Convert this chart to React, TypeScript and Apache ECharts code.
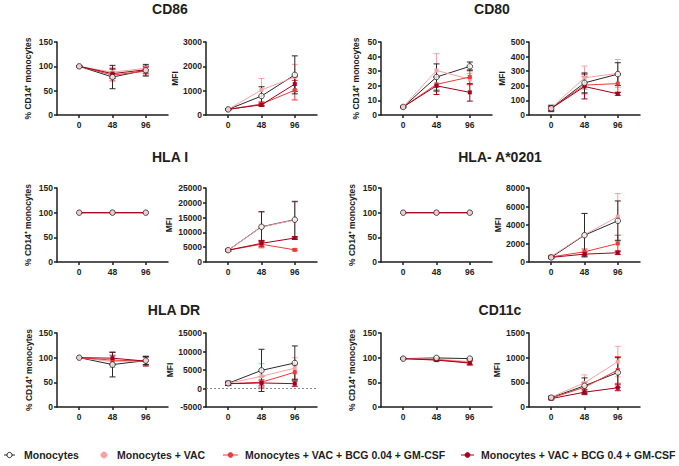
import React, { useEffect, useRef } from "react";
import * as echarts from "echarts";

// ---------- data ----------
const hours = [0, 48, 96];
const groupNames = [
  "Monocytes",
  "Monocytes + VAC",
  "Monocytes + VAC + BCG 0.04 + GM-CSF",
  "Monocytes + VAC + BCG 0.4 + GM-CSF",
];
const markerNames = ["CD86", "CD80", "HLA I", "HLA- A*0201", "HLA DR", "CD11c"];

// rows: Monocytes, +VAC, +VAC+BCG 0.04, +VAC+BCG 0.4 ; columns: 0, 48, 96 h
const cd86PctMean = [[100, 78, 92], [100, 88, 96], [100, 82, 90], [100, 85, 93]];
const cd86PctSd = [[1, 24, 12], [1, 10, 6], [1, 12, 8], [1, 10, 7]];
const cd86MfiMean = [[230, 780, 1650], [230, 1030, 1560], [230, 450, 1020], [230, 420, 1270]];
const cd86MfiSd = [[20, 380, 780], [20, 470, 520], [20, 80, 400], [20, 60, 300]];

const cd80PctMean = [[5.5, 26, 33.3], [5.5, 30.5, 24.5], [5.5, 21, 26], [5.5, 20, 15.5]];
const cd80PctSd = [[0.5, 9, 3], [0.5, 11.5, 4], [0.5, 5, 5], [0.5, 6, 6]];
const cd80MfiMean = [[45, 220, 280], [48, 255, 285], [45, 205, 215], [45, 195, 145]];
const cd80MfiSd = [[22, 68, 78], [15, 80, 95], [15, 60, 60], [15, 85, 10]];

const hlaIPctMean = [[100, 100, 100], [100, 100, 100], [100, 100, 100], [100, 100, 100]];
const hlaIPctSd = [[0, 0, 0], [0, 0, 0], [0, 0, 0], [0, 0, 0]];
const hlaIMfiMean = [[4000, 11900, 14300], [4000, 11800, 14200], [4000, 6000, 4100], [4000, 6300, 8100]];
const hlaIMfiSd = [[300, 5100, 6200], [300, 5000, 6000], [300, 1200, 300], [300, 1000, 500]];

const hlaA2PctMean = [[100, 100, 100], [100, 100, 100], [100, 100, 100], [100, 100, 100]];
const hlaA2PctSd = [[0, 0, 0], [0, 0, 0], [0, 0, 0], [0, 0, 0]];
const hlaA2MfiMean = [[500, 2900, 4450], [600, 2950, 4900], [550, 1100, 2000], [500, 850, 1000]];
const hlaA2MfiSd = [[150, 2350, 2150], [150, 2300, 2500], [100, 300, 900], [100, 200, 200]];

const hlaDrPctMean = [[100, 86, 94], [100, 92, 94], [100, 95, 93], [100, 99, 93]];
const hlaDrPctSd = [[0, 25, 8], [0, 12, 8], [0, 10, 8], [0, 12, 10]];
const hlaDrMfiMean = [[1400, 4900, 6900], [1400, 3300, 5500], [1300, 1700, 4400], [1300, 1500, 1300]];
const hlaDrMfiSd = [[600, 5700, 4600], [500, 3400, 2800], [400, 1500, 2000], [400, 800, 700]];

const cd11cPctMean = [[98, 99.5, 98], [98, 97, 92], [98, 96, 90], [98, 95, 89]];
const cd11cPctSd = [[1, 1.5, 1], [1, 2, 4], [1, 2, 4], [1, 2, 4]];
const cd11cMfiMean = [[190, 430, 700], [200, 490, 920], [180, 400, 750], [170, 300, 390]];
const cd11cMfiSd = [[30, 160, 300], [30, 160, 310], [25, 100, 270], [25, 50, 60]];

// axis scales (ticks) per marker
const pctAxisMax = [150, 50, 150, 150, 150, 150];
const pctAxisStep = [50, 10, 50, 50, 50, 50];
const mfiAxisMin = [0, 0, 0, 0, -5000, 0];
const mfiAxisMax = [3000, 500, 25000, 8000, 15000, 1500];
const mfiAxisStep = [1000, 100, 5000, 2000, 5000, 500];

const pctMeans = [cd86PctMean, cd80PctMean, hlaIPctMean, hlaA2PctMean, hlaDrPctMean, cd11cPctMean];
const pctSds = [cd86PctSd, cd80PctSd, hlaIPctSd, hlaA2PctSd, hlaDrPctSd, cd11cPctSd];
const mfiMeans = [cd86MfiMean, cd80MfiMean, hlaIMfiMean, hlaA2MfiMean, hlaDrMfiMean, cd11cMfiMean];
const mfiSds = [cd86MfiSd, cd80MfiSd, hlaIMfiSd, hlaA2MfiSd, hlaDrMfiSd, cd11cMfiSd];

// ---------- layout & style ----------
const FONT = 'Arial, "Liberation Sans", Helvetica, sans-serif';
const INK = "#1e1e1e";
const groupColors = ["#2a2a2a", "#f6a2a5", "#ee3a3a", "#a2001c"];
const rowTops = [42, 188, 333];
const rowHeights = [73, 74, 74];
const pctLefts = [57, 381];
const mfiLefts = [206, 529];
const gridWidth = 111;
const titleX = [170, 500];
const titleY = [9, 157, 310];
const pctNameGap = [25, 21, 25, 25, 24, 25];
const mfiNameGap = [24, 23, 33, 25, 32, 28];

function buildOption() {
  const grids: any[] = [];
  const xAxes: any[] = [];
  const yAxes: any[] = [];
  const series: any[] = [];
  const graphics: any[] = [];

  const xAxisFor = (idx: number) => ({
    type: "value",
    gridIndex: idx,
    min: -32,
    max: 128,
    splitLine: { show: false },
    axisLine: { show: true, onZero: false, lineStyle: { color: INK, width: 1.5 } },
    axisTick: { show: true, customValues: hours, length: 3, lineStyle: { color: INK, width: 1.5 } },
    axisLabel: {
      customValues: hours,
      fontSize: 8.5,
      fontWeight: "bold",
      color: INK,
      margin: 5,
      fontFamily: FONT,
    },
  });

  const yAxisFor = (idx: number, min: number, max: number, step: number, name: string, gap: number) => ({
    type: "value",
    gridIndex: idx,
    min,
    max,
    interval: step,
    splitLine: { show: false },
    axisLine: { show: true, onZero: false, lineStyle: { color: INK, width: 1.5 } },
    axisTick: { show: true, length: 3, lineStyle: { color: INK, width: 1.5 } },
    axisLabel: {
      fontSize: 8.5,
      fontWeight: "bold",
      color: INK,
      margin: 4,
      fontFamily: FONT,
      formatter: (v: number) => String(v),
    },
    name,
    nameLocation: "middle",
    nameGap: gap,
    nameTextStyle: { fontSize: 8.5, fontWeight: "bold", color: INK, fontFamily: FONT },
  });

  const addPanel = (
    idx: number,
    means: number[][],
    sds: number[][],
    withZeroLine: boolean
  ) => {
    // error bars: coloured groups first, Monocytes last
    const errData: number[][] = [];
    [1, 2, 3, 0].forEach((g) => {
      hours.forEach((h, j) => {
        const m = means[g][j];
        const s = sds[g][j];
        if (s > 0) errData.push([h, m - s, m + s, g]);
      });
    });
    series.push({
      type: "custom",
      xAxisIndex: idx,
      yAxisIndex: idx,
      z: 1,
      silent: true,
      data: errData,
      encode: { x: 0, y: [1, 2] },
      renderItem: (_p: any, api: any) => {
        const x = api.value(0);
        const lo = api.value(1);
        const hi = api.value(2);
        const g = api.value(3);
        const top = api.coord([x, hi]);
        const bot = api.coord([x, lo]);
        const c = groupColors[g];
        const half = 3;
        const st = { stroke: c, lineWidth: 1 };
        return {
          type: "group",
          children: [
            { type: "line", shape: { x1: top[0], y1: top[1], x2: bot[0], y2: bot[1] }, style: st },
            { type: "line", shape: { x1: top[0] - half, y1: top[1], x2: top[0] + half, y2: top[1] }, style: st },
            { type: "line", shape: { x1: bot[0] - half, y1: bot[1], x2: bot[0] + half, y2: bot[1] }, style: st },
          ],
        };
      },
    });

    means.forEach((vals, g) => {
      const s: any = {
        type: "line",
        name: groupNames[g],
        xAxisIndex: idx,
        yAxisIndex: idx,
        z: 2 + g,
        data: hours.map((h, j) => [h, vals[j]]),
        symbol: g === 0 ? "none" : "rect",
        symbolSize: 4,
        showSymbol: g !== 0,
        lineStyle: { color: groupColors[g], width: 1 },
        itemStyle: { color: groupColors[g] },
        silent: true,
      };
      if (g === 0 && withZeroLine) {
        s.markLine = {
          silent: true,
          symbol: "none",
          label: { show: false },
          lineStyle: { color: "#8a8a8a", type: [2, 2], width: 1 },
          data: [{ yAxis: 0 }],
        };
      }
      series.push(s);
    });

    // open circles for Monocytes on top
    series.push({
      type: "scatter",
      xAxisIndex: idx,
      yAxisIndex: idx,
      z: 10,
      silent: true,
      symbol: "circle",
      symbolSize: 5.5,
      data: hours.map((h, j) => [h, means[0][j]]),
      itemStyle: { color: "#ffffff", borderColor: INK, borderWidth: 1 },
    });
  };

  markerNames.forEach((name, p) => {
    const row = Math.floor(p / 2);
    const col = p % 2;
    const pctIdx = p * 2;
    const mfiIdx = p * 2 + 1;

    grids.push({ left: pctLefts[col], top: rowTops[row], width: gridWidth, height: rowHeights[row] });
    grids.push({ left: mfiLefts[col], top: rowTops[row], width: gridWidth, height: rowHeights[row] });

    xAxes.push(xAxisFor(pctIdx));
    xAxes.push(xAxisFor(mfiIdx));
    yAxes.push(yAxisFor(pctIdx, 0, pctAxisMax[p], pctAxisStep[p], "% CD14\u207A monocytes", pctNameGap[p]));
    yAxes.push(yAxisFor(mfiIdx, mfiAxisMin[p], mfiAxisMax[p], mfiAxisStep[p], "MFI", mfiNameGap[p]));

    addPanel(pctIdx, pctMeans[p], pctSds[p], false);
    addPanel(mfiIdx, mfiMeans[p], mfiSds[p], mfiAxisMin[p] < 0);

    graphics.push({
      type: "text",
      x: titleX[col] + (row === 0 && col === 1 ? -8 : 0) + (row === 2 && col === 0 ? 4 : 0),
      y: titleY[row],
      style: {
        text: name,
        fontSize: 14,
        fontWeight: "bold",
        fontFamily: FONT,
        fill: INK,
        textAlign: "center",
        textVerticalAlign: "middle",
      },
    });
  });

  // legend row
  const legendY = 455;
  const legendItems = [
    { lineFrom: 4, lineTo: 15, dot: 9.5, textX: 24 },
    { lineFrom: 100, lineTo: 108, dot: 104, textX: 117 },
    { lineFrom: 223, lineTo: 238, dot: 230.5, textX: 245 },
    { lineFrom: 461, lineTo: 474, dot: 467.5, textX: 481 },
  ];
  legendItems.forEach((it, g) => {
    graphics.push({
      type: "line",
      shape: { x1: it.lineFrom, y1: legendY, x2: it.lineTo, y2: legendY },
      style: { stroke: groupColors[g], lineWidth: 1, opacity: g === 1 ? 0.5 : 1 },
    });
    graphics.push({
      type: "circle",
      shape: { cx: it.dot, cy: legendY, r: g === 1 ? 3.2 : 2.6 },
      style:
        g === 0
          ? { fill: "#ffffff", stroke: INK, lineWidth: 1 }
          : { fill: groupColors[g], stroke: groupColors[g], lineWidth: 0.5 },
    });
    graphics.push({
      type: "text",
      x: it.textX,
      y: legendY,
      style: {
        text: groupNames[g],
        fontSize: 10.5,
        fontWeight: "bold",
        fontFamily: FONT,
        fill: INK,
        textAlign: "left",
        textVerticalAlign: "middle",
      },
    });
  });

  return {
    animation: false,
    backgroundColor: "#ffffff",
    grid: grids.map((g) => ({ ...g, outerBoundsMode: "none" })),
    xAxis: xAxes,
    yAxis: yAxes,
    series,
    graphic: graphics,
  };
}

export default function App() {
  const ref = useRef<HTMLDivElement>(null);
  useEffect(() => {
    if (!ref.current) return;
    const chart = echarts.init(ref.current, undefined, { renderer: "svg" });
    chart.setOption(buildOption() as any);
    return () => chart.dispose();
  }, []);
  return (
    <div
      ref={ref}
      style={{ position: "fixed", left: 0, top: 0, width: 679, height: 466, background: "#fff" }}
    />
  );
}
